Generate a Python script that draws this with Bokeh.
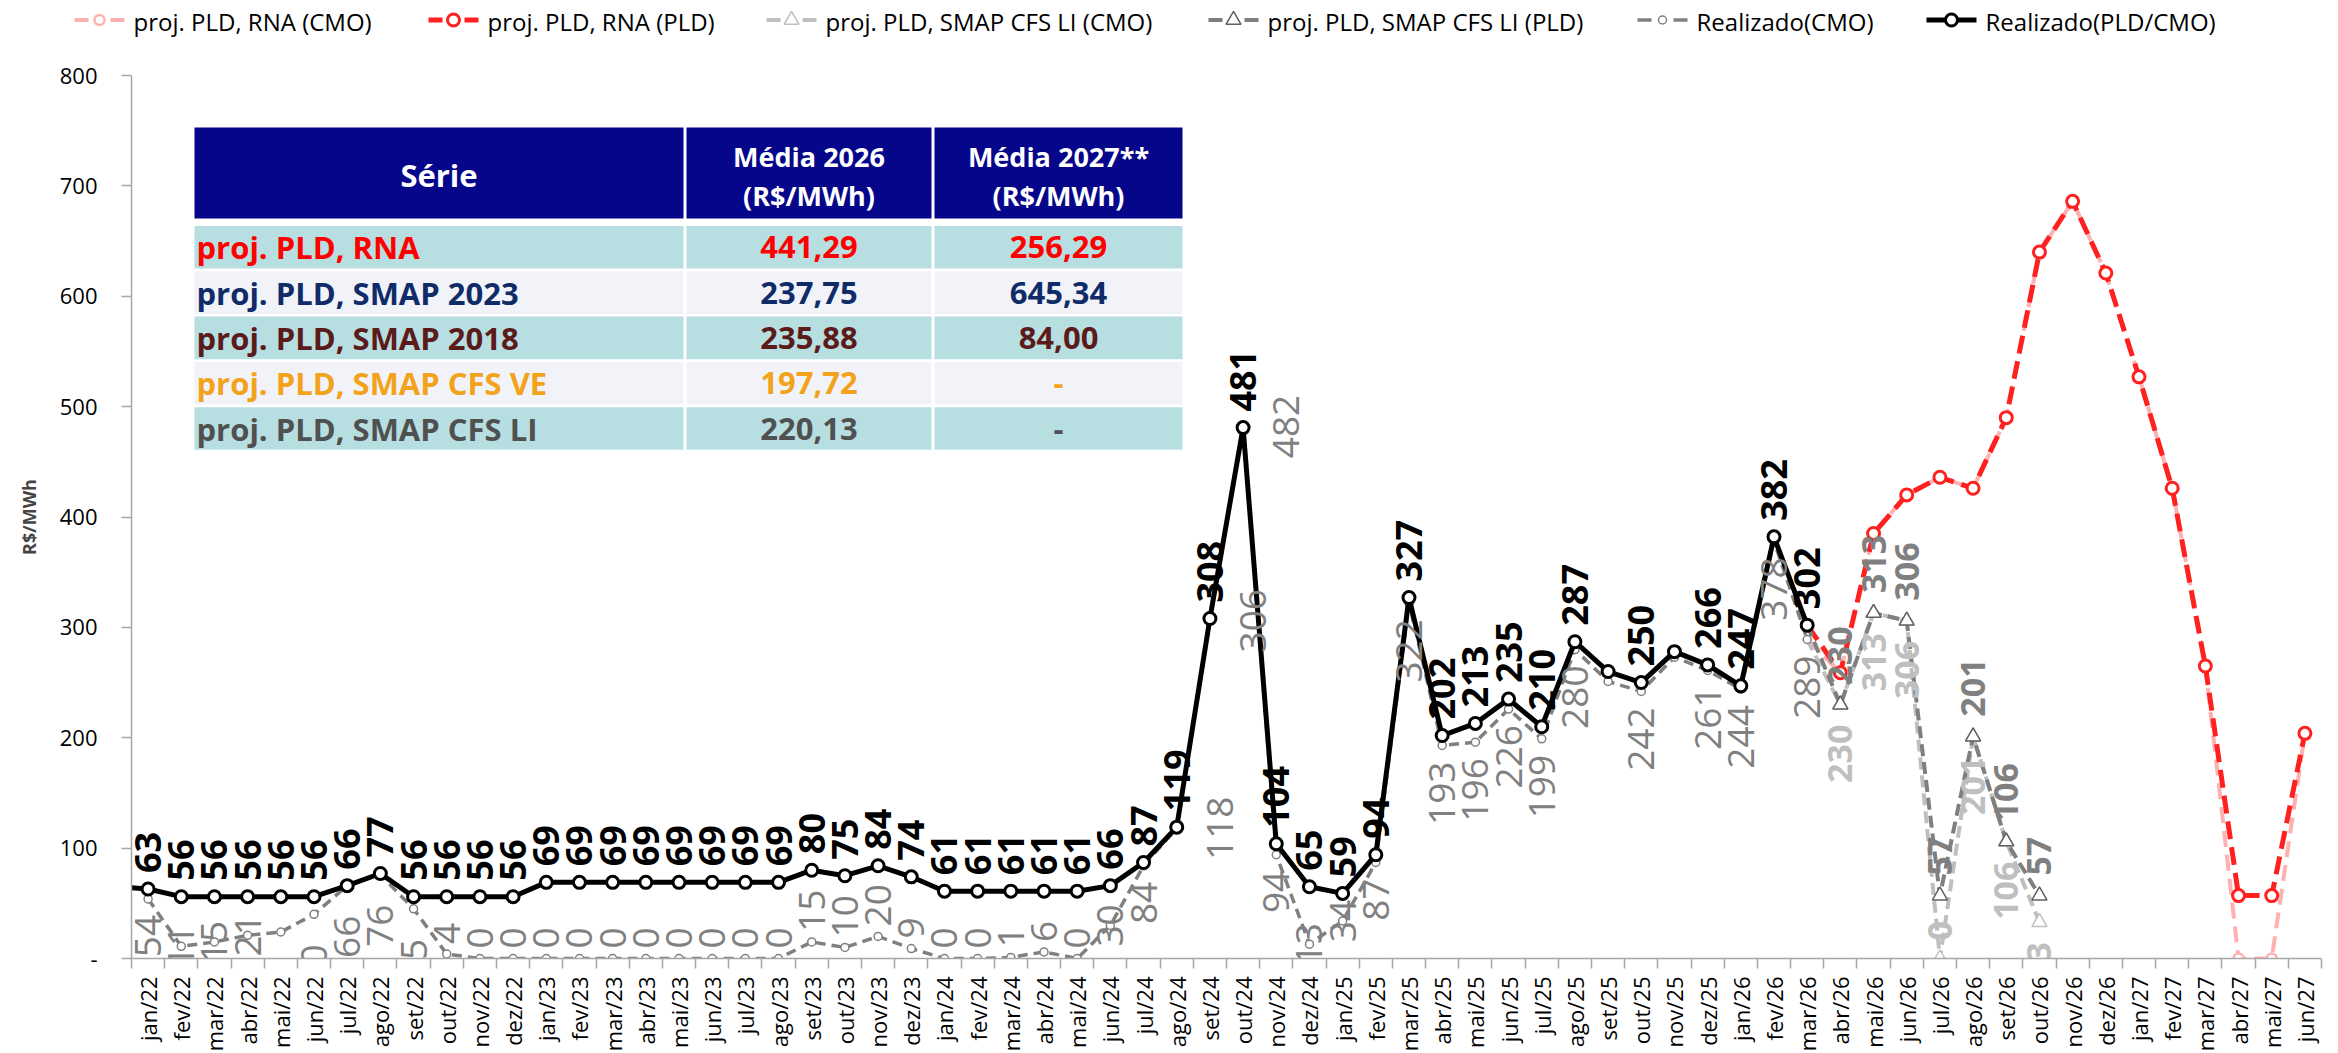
import math
from bokeh.plotting import figure
from bokeh.models import (Range1d, FixedTicker, CustomJSTickFormatter, ColumnDataSource)
from bokeh.core.properties import value
from bokeh.embed import file_html
from bokeh.resources import INLINE

NAN = float("nan")

# ---------------- data ----------------
MONTH_NAMES = ["jan", "fev", "mar", "abr", "mai", "jun", "jul", "ago", "set", "out", "nov", "dez"]
YEARS = ["22", "23", "24", "25", "26", "27"]
MONTHS = ["dez/21"] + [f"{m}/{y}" for y in YEARS for m in MONTH_NAMES]
MONTHS = MONTHS[:MONTHS.index("jun/27") + 1]

REAL_START = "dez/21"
# Realizado(PLD/CMO)
REAL_PLD = [65,
            63, 56, 56, 56, 56, 56, 66, 77, 56, 56, 56, 56,
            69, 69, 69, 69, 69, 69, 69, 69, 80, 75, 84, 74,
            61, 61, 61, 61, 61, 66, 87, 119, 308, 481, 104, 65,
            59, 94, 327, 202, 213, 235, 210, 287, 260, 250, 278, 266,
            247, 382, 302]
# Realizado(CMO)
REAL_CMO = [NAN,
            54, 11, 15, 21, 24, 40, 66, 76, 45, 4, 0, 0,
            0, 0, 0, 0, 0, 0, 0, 0, 15, 10, 20, 9,
            0, 0, 1, 6, 0, 30, 84, 118, 306, 482, 94, 13,
            34, 87, 322, 193, 196, 226, 199, 280, 251, 242, 273, 261,
            244, 378, 289]

PROJ_START = "mar/26"
RNA_PLD = [302, 259, 385, 420, 436, 426, 490, 640, 686, 621, 527, 426, 265, 57, 57, 204]
RNA_CMO = [289, 259, 385, 420, 436, 426, 490, 640, 686, 621, 527, 426, 265, 0, 0, 204]
SMAP_PLD = [302, 230, 313, 306, 57, 201, 106, 57]
SMAP_CMO = [289, 230, 313, 306, 0, 201, 106, 33]

LABEL_HIDDEN = ["dez/21", "set/25", "nov/25"]
CMO_CENTER = ["fev/22", "mar/22", "abr/22", "jun/24", "dez/24", "jan/25"]
CMO_BELOW_FAR = ["mai/22", "jun/22", "jul/22", "ago/22", "set/22"]
CMO_RIGHT = ["ago/24", "set/24", "out/24"]
CMO_ABOVE = MONTHS[MONTHS.index("out/22"):MONTHS.index("mai/24") + 1]

LEGEND_LABELS = ["proj. PLD, RNA (CMO)", "proj. PLD, RNA (PLD)",
                 "proj. PLD, SMAP CFS LI (CMO)", "proj. PLD, SMAP CFS LI (PLD)",
                 "Realizado(CMO)", "Realizado(PLD/CMO)"]

TABLE_HEADER = ["Série", "Média 2026", "Média 2027**"]
TABLE_UNIT = "(R$/MWh)"
TABLE_SERIES = ["proj. PLD, RNA", "proj. PLD, SMAP 2023", "proj. PLD, SMAP 2018",
                "proj. PLD, SMAP CFS VE", "proj. PLD, SMAP CFS LI"]
TABLE_2026 = ["441,29", "237,75", "235,88", "197,72", "220,13"]
TABLE_2027 = ["256,29", "645,34", "84,00", "-", "-"]
TABLE_COLORS = ["#FF0000", "#102C68", "#5C1B1B", "#F2A31B", "#505050"]

Y_TICKS = list(range(0, 801, 100))

# ---------------- styles ----------------
PINK = "#FFB0B0"
RED = "#FF2020"
LIGHT = "#BFBFBF"
DARK = "#7F7F7F"
GRAY = "#808080"
AXIS_GRAY = "#A6A6A6"
NAVY = "#06068A"
TEAL = "#B7DEE0"
PALE = "#F2F3F8"
FONT = "Open Sans"

# page geometry (Bokeh's standalone page has no body margin)
PAGE_X0, PAGE_Y0 = 0, 0
W = 2334
TOTAL_H = 1050
LEG_H = 40
FRAME_L, FRAME_R, FRAME_T, FRAME_B = 131, 2321, 75, 958   # page px of the plot area
MB_L = FRAME_L - PAGE_X0
MB_R = W - MB_L - (FRAME_R - FRAME_L)
MB_T = FRAME_T - PAGE_Y0 - LEG_H
MB_B = TOTAL_H - LEG_H - MB_T - (FRAME_B - FRAME_T)
N = len(MONTHS)

p = figure(frame_width=FRAME_R - FRAME_L, frame_height=FRAME_B - FRAME_T,
           x_range=Range1d(0.5, N - 0.5), y_range=Range1d(0, 800),
           output_backend="svg", toolbar_location=None,
           min_border_left=MB_L, min_border_right=MB_R,
           min_border_top=MB_T, min_border_bottom=MB_B)
p.xgrid.visible = False
p.ygrid.visible = False
p.outline_line_color = None


# page-pixel -> data helpers (for the summary table overlay)
def dx(px):
    return 0.5 + (px - FRAME_L) / (FRAME_R - FRAME_L) * (N - 1)


def dy(py):
    return (FRAME_B - py) / (FRAME_B - FRAME_T) * 800


# ---------------- axes ----------------
xa = p.xaxis[0]
xa.ticker = FixedTicker(ticks=list(range(1, N)),
                        minor_ticks=[i + 0.5 for i in range(0, N)])
xa.formatter = CustomJSTickFormatter(args=dict(labels=MONTHS),
                                     code="const i = Math.round(tick); return labels[i] || '';")
xa.major_label_orientation = math.pi / 2
xa.major_tick_out = 0
xa.major_tick_in = 0
xa.minor_tick_out = 10
xa.minor_tick_in = 0
xa.minor_tick_line_color = AXIS_GRAY
xa.minor_tick_line_width = 1.5
xa.axis_line_color = AXIS_GRAY
xa.axis_line_width = 1.5
xa.major_label_standoff = 8
xa.major_label_text_font = FONT
xa.major_label_text_font_size = "22px"
xa.major_label_text_color = "black"

ya = p.yaxis[0]
ya.ticker = FixedTicker(ticks=Y_TICKS, minor_ticks=[])
ya.formatter = CustomJSTickFormatter(code="return tick == 0 ? '-' : tick.toFixed(0);")
ya.major_tick_out = 10
ya.major_tick_in = 0
ya.minor_tick_out = 0
ya.minor_tick_in = 0
ya.major_tick_line_color = AXIS_GRAY
ya.major_tick_line_width = 1.5
ya.axis_line_color = AXIS_GRAY
ya.axis_line_width = 1.5
ya.major_label_standoff = 24
ya.major_label_text_font = FONT
ya.major_label_text_font_size = "22px"
ya.major_label_text_color = "black"
ya.axis_label = "R$/MWh"
ya.axis_label_text_font = FONT
ya.axis_label_text_font_style = "bold"
ya.axis_label_text_font_size = "18px"
ya.axis_label_standoff = 16


def xs_for(start, vals):
    s = MONTHS.index(start)
    return [s + i for i in range(len(vals))]


# ---------------- summary table ----------------
TBL_COLS = [(194, 683), (686, 931), (934, 1182)]
TBL_HEAD = (127, 218)
ROW_TOP0, ROW_PITCH, ROW_H = 225.5, 45.3, 42.6

p.quad(left=[dx(a) for a, b in TBL_COLS], right=[dx(b) for a, b in TBL_COLS],
       top=[dy(TBL_HEAD[0])] * 3, bottom=[dy(TBL_HEAD[1])] * 3,
       fill_color=NAVY, line_color=None)
rl, rr, rt, rb, rc = [], [], [], [], []
for r in range(len(TABLE_SERIES)):
    t = ROW_TOP0 + r * ROW_PITCH
    for a, b in TBL_COLS:
        rl.append(dx(a)); rr.append(dx(b))
        rt.append(dy(t)); rb.append(dy(t + ROW_H))
        rc.append(TEAL if r % 2 == 0 else PALE)
p.quad(left=rl, right=rr, top=rt, bottom=rb, fill_color=rc, line_color=None)

hc = [(a + b) / 2 for a, b in TBL_COLS]
p.text(x=[dx(hc[0])], y=[dy(174)], text=[TABLE_HEADER[0]], text_color="white",
       text_font=value(FONT), text_font_style="bold", text_font_size="31px",
       text_align="center", text_baseline="middle")
p.text(x=[dx(hc[1]), dx(hc[2])], y=[dy(156)] * 2, text=TABLE_HEADER[1:], text_color="white",
       text_font=value(FONT), text_font_style="bold", text_font_size="27px",
       text_align="center", text_baseline="middle")
p.text(x=[dx(hc[1]), dx(hc[2])], y=[dy(195)] * 2, text=[TABLE_UNIT] * 2, text_color="white",
       text_font=value(FONT), text_font_style="bold", text_font_size="27px",
       text_align="center", text_baseline="middle")
row_y = [dy(ROW_TOP0 + r * ROW_PITCH + ROW_H / 2) for r in range(len(TABLE_SERIES))]
p.text(x=[dx(196)] * len(TABLE_SERIES), y=row_y, text=TABLE_SERIES, text_color=TABLE_COLORS,
       text_font=value(FONT), text_font_style="bold", text_font_size="31px",
       text_align="left", text_baseline="middle")
p.text(x=[dx(hc[1])] * len(TABLE_2026), y=row_y, text=TABLE_2026, text_color=TABLE_COLORS,
       text_font=value(FONT), text_font_style="bold", text_font_size="31px",
       text_align="center", text_baseline="middle")
p.text(x=[dx(hc[2])] * len(TABLE_2027), y=row_y, text=TABLE_2027, text_color=TABLE_COLORS,
       text_font=value(FONT), text_font_style="bold", text_font_size="31px",
       text_align="center", text_baseline="middle")

# ---------------- series ----------------
x_rna = xs_for(PROJ_START, RNA_PLD)
x_smap = xs_for(PROJ_START, SMAP_PLD)
x_real = xs_for(REAL_START, REAL_PLD)

STYLES = [  # (line color, width, dash, marker, size, marker line color, marker line width)
    (PINK, 4, "16 8", "circle", 10, PINK, 2.5),
    (RED, 5, "18 8", "circle", 12, RED, 3),
    (LIGHT, 4, "12 6", "triangle", 15, LIGHT, 1.5),
    (DARK, 4, "12 6", "triangle", 15, "#606060", 1.5),
    (GRAY, 3.5, "10 6", "circle", 8, GRAY, 1.5),
    ("black", 5, "solid", "circle", 12, "black", 3),
]


def draw(xs, ys, st, skip_first_marker):
    lc, lw, dash, mk, sz, mlc, mlw = st
    p.line(xs, ys, line_color=lc, line_width=lw, line_dash=dash)
    k = 1 if skip_first_marker else 0
    p.scatter(xs[k:], ys[k:], marker=mk, size=sz, line_color=mlc, line_width=mlw,
              fill_color="white")


draw(x_rna, RNA_CMO, STYLES[0], True)
draw(x_rna, RNA_PLD, STYLES[1], True)
draw(x_smap, SMAP_CMO, STYLES[2], True)
draw(x_smap, SMAP_PLD, STYLES[3], True)
draw(x_real, REAL_CMO, STYLES[4], False)
draw(x_real, REAL_PLD, STYLES[5], False)


# ---------------- data labels ----------------
def add_labels(xs, ys, texts, color, size, style, mode, gap=16):
    if not xs:
        return
    src = ColumnDataSource(dict(x=xs, y=ys, text=texts))
    kw = dict(x="x", y="y", text="text", source=src, angle=math.pi / 2,
              text_color=color, text_font=value(FONT), text_font_size=f"{size}px",
              text_font_style=style, text_baseline="middle")
    if mode == "above":
        kw.update(text_align="left", y_offset=-gap)
    elif mode == "below":
        kw.update(text_align="right", y_offset=gap)
    elif mode == "center":
        kw.update(text_align="center")
    elif mode == "right":
        kw.update(text_align="center", x_offset=43)
    p.text(**kw)


def cmo_mode(m):
    if m in CMO_CENTER:
        return "center"
    if m in CMO_BELOW_FAR:
        return "below_far"
    if m in CMO_RIGHT:
        return "right"
    if m in CMO_ABOVE:
        return "above"
    return "below"


groups = {}
for x, v in zip(x_real, REAL_CMO):
    m = MONTHS[x]
    if m in LABEL_HIDDEN or v != v:
        continue
    groups.setdefault(cmo_mode(m), []).append((x, v))
for mode, pts in groups.items():
    xs = [a for a, b in pts]
    ys = [b for a, b in pts]
    tx = [str(int(b)) for a, b in pts]
    if mode == "below_far":
        add_labels(xs, ys, tx, GRAY, 37, "normal", "below", gap=30)
    elif mode == "above":
        add_labels(xs, ys, tx, GRAY, 37, "normal", "above", gap=10)
    else:
        add_labels(xs, ys, tx, GRAY, 37, "normal", mode, gap=16)

# SMAP CFS LI labels (skip the shared starting month)
lx_b, ly_b, lx_a, ly_a = [], [], [], []
for x, v in zip(x_smap[1:], SMAP_CMO[1:]):
    if v == 0:
        lx_a.append(x); ly_a.append(v)
    else:
        lx_b.append(x); ly_b.append(v)
add_labels(lx_b, ly_b, [str(v) for v in ly_b], LIGHT, 34, "bold", "below", gap=20)
add_labels(lx_a, ly_a, [str(v) for v in ly_a], LIGHT, 34, "bold", "above", gap=18)
add_labels(x_smap[1:], SMAP_PLD[1:], [str(v) for v in SMAP_PLD[1:]], GRAY, 34, "bold",
           "above", gap=20)

# Realizado(PLD/CMO) labels
bx, by = [], []
for x, v in zip(x_real, REAL_PLD):
    if MONTHS[x] in LABEL_HIDDEN:
        continue
    bx.append(x); by.append(v)
add_labels(bx, by, [str(v) for v in by], "black", 36, "bold", "above", gap=16)

# ---------------- legend (own strip above the chart) ----------------
LEG_TEXT_X = [133, 487, 825, 1267, 1696, 1985]  # page px where each label starts
LEG_SAMPLE_W, LEG_SAMPLE_GAP, LEG_DASH = 50, 9, 14
LEG_LINE_Y, LEG_TEXT_Y = 19.5, 21  # page px (text: vertical middle)

lf = figure(width=W, height=LEG_H, x_range=Range1d(0, W), y_range=Range1d(LEG_H, 0),
            output_backend="svg", toolbar_location=None, min_border=0,
            x_axis_type=None, y_axis_type=None)
lf.xgrid.visible = False
lf.ygrid.visible = False
lf.outline_line_color = None

seg = dict(x0=[], x1=[], c=[], w=[])
mk = dict(x=[], m=[], s=[], c=[], w=[])
for tx, st in zip(LEG_TEXT_X, STYLES):
    lc, lw, dash, mkr, sz, mlc, mlw = st
    s1 = tx - PAGE_X0 - LEG_SAMPLE_GAP
    s0 = s1 - LEG_SAMPLE_W
    if dash == "solid":
        seg["x0"].append(s0); seg["x1"].append(s1); seg["c"].append(lc); seg["w"].append(lw)
    else:
        for a, b in ((s0, s0 + LEG_DASH), (s1 - LEG_DASH, s1)):
            seg["x0"].append(a); seg["x1"].append(b); seg["c"].append(lc); seg["w"].append(lw)
    mk["x"].append((s0 + s1) / 2); mk["m"].append(mkr); mk["s"].append(sz)
    mk["c"].append(mlc); mk["w"].append(mlw)
ly = LEG_LINE_Y - PAGE_Y0
seg_src = ColumnDataSource(dict(seg, y=[ly] * len(seg["x0"])))
lf.segment(x0="x0", x1="x1", y0="y", y1="y", line_color="c", line_width="w", source=seg_src)
mk_src = ColumnDataSource(dict(mk, y=[ly] * len(mk["x"])))
lf.scatter(x="x", y="y", marker="m", size="s", line_color="c", line_width="w",
           fill_color="white", source=mk_src)
lf.text(x=[t - PAGE_X0 for t in LEG_TEXT_X], y=[LEG_TEXT_Y - PAGE_Y0] * len(LEG_TEXT_X),
        text=LEGEND_LABELS, text_color="black", text_font=value(FONT), text_font_size="24px",
        text_align="left", text_baseline="middle")

open("out.html", "w").write(file_html([lf, p], INLINE))
